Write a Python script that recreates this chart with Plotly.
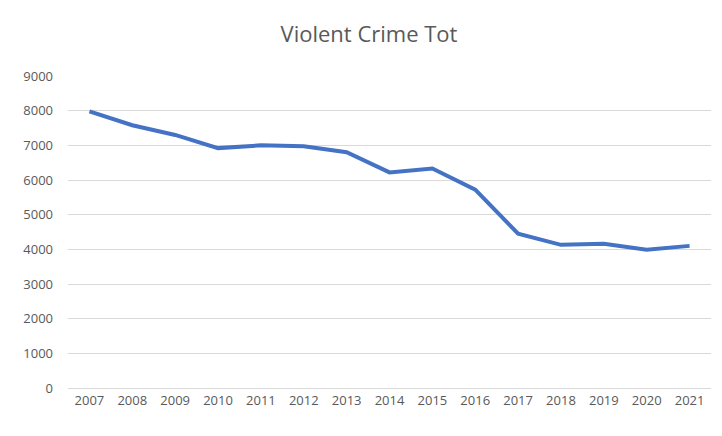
import plotly.graph_objects as go

years = [str(y) for y in range(2007, 2022)]
crimes = [7980, 7580, 7300, 6920, 7000, 6970, 6800, 6220, 6330, 5720,
          4450, 4130, 4160, 3990, 4100]

fig = go.Figure(go.Scatter(x=years, y=crimes, mode="lines",
                           line=dict(color="#4472C4", width=4)))
fig.update_layout(
    width=722, height=436,
    title=dict(text="Violent Crime Tot", x=0.5, y=0.94, xanchor="center",
               yanchor="middle",
               font=dict(family="Open Sans", size=22, color="#595959")),
    margin=dict(l=60, r=19, t=68, b=56),
    plot_bgcolor="white", paper_bgcolor="white",
    font=dict(family="Open Sans", size=13, color="#595959"),
    showlegend=False,
)
fig.update_xaxes(type="category", range=[-0.5, 14.5], showgrid=False,
                 showline=True, linecolor="#D9D9D9", ticks="")
fig.update_yaxes(range=[0, 9000], dtick=1000, gridcolor="#D9D9D9",
                 zeroline=False, ticks="", ticklabelstandoff=14)
fig.write_html("out.html")
